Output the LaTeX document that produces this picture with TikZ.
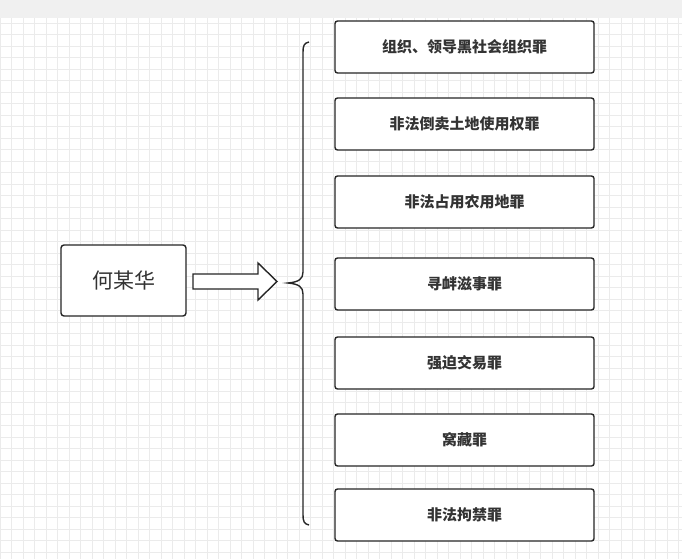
\documentclass[tikz,border=0pt]{standalone}
\usepackage{fontspec}
\newfontfamily\cjk{Noto Sans CJK SC}
\usetikzlibrary{positioning}

\begin{document}
\begin{tikzpicture}
    [x=1pt, y=-1pt,
     crimeBox/.style={draw=black!85, line width=1.4pt, rounded corners=2.5pt, fill=white,
         minimum width=259pt, minimum height=52pt, inner sep=0pt, font=\cjk\bfseries\fontsize{15}{17}\selectfont, text=black!80},
     personBox/.style={draw=black!85, line width=1.4pt, rounded corners=3pt, fill=white,
         minimum width=125pt, minimum height=71pt, inner sep=0pt, font=\cjk\fontsize{21}{24}\selectfont, text=black!80},
    ]

    % background and grid
    \useasboundingbox (0,0) rectangle (682,559);
    \fill[white] (0,0) rectangle (682,559);
    \draw[black!8, line width=0.5pt, step=11.5pt] (0,18) grid (682,559);
    \fill[black!6] (0,0) rectangle (682,18);

    \node[personBox] (person) at (123.5,280.5) {何某华};

    % block arrow
    \draw[black!85, line width=1.4pt, fill=white]
        (193,274) -- (258,274) -- (258,263) -- (277,281.5) -- (258,300) -- (258,289) -- (193,289) -- cycle;

    % brace
    \draw[black!85, line width=1.4pt]
        (309,42) .. controls (304,43) and (303,46) .. (303,52) -- (303,272)
        .. controls (303,279) and (299,282) .. (288,283)
        .. controls (299,284) and (303,287) .. (303,294) -- (303,515)
        .. controls (303,521) and (304,524) .. (309,525);

    \node[crimeBox] (crimeA) at (464.5,47) {组织、领导黑社会组织罪};
    \node[crimeBox] (crimeB) at (464.5,124) {非法倒卖土地使用权罪};
    \node[crimeBox] (crimeC) at (464.5,202) {非法占用农用地罪};
    \node[crimeBox] (crimeD) at (464.5,284) {寻衅滋事罪};
    \node[crimeBox] (crimeE) at (464.5,363) {强迫交易罪};
    \node[crimeBox] (crimeF) at (464.5,440) {窝藏罪};
    \node[crimeBox] (crimeG) at (464.5,515) {非法拘禁罪};

\end{tikzpicture}
\end{document}
